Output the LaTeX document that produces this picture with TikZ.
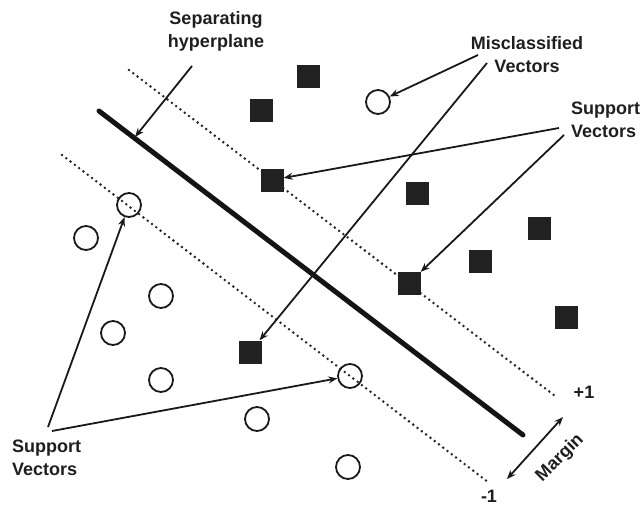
\documentclass[tikz,border=0pt]{standalone}
\usepackage{fontspec}
\setmainfont{Liberation Sans}
\usetikzlibrary{arrows.meta,positioning}

\begin{document}
\begin{tikzpicture}[
    x=1pt, y=-1pt,
    vecc/.style={circle, draw=black!90, line width=1.8pt, minimum size=24pt, inner sep=0pt},
    vecs/.style={rectangle, fill=black!87, minimum size=23pt, inner sep=0pt},
    lbl/.style={font=\fontsize{18}{23}\selectfont\bfseries, text=black!88, inner sep=0pt},
    arr/.style={-{Stealth[length=9pt, width=7pt]}, line width=1.8pt, black!90},
    hyper/.style={line width=5pt, black!92, line cap=round},
    marginline/.style={line width=2.8pt, black!85, dash pattern=on 0pt off 5.4pt, line cap=round}
  ]
  \useasboundingbox (0,0) rectangle (642,508);

  %% -- hyperplane and margins --------------------------------------------
  \coordinate (hA) at (99,111);
  \coordinate (hB) at (523,435);
  \coordinate (pA) at (129,70);
  \coordinate (pB) at (555,396);
  \coordinate (mA) at (62,155);
  \coordinate (mB) at (488,482);
  \draw[hyper]      (hA) -- (hB);
  \draw[marginline] (pA) -- (pB);
  \draw[marginline] (mA) -- (mB);

  %% -- class +1 (filled squares) -----------------------------------------
  \node[vecs] (s1) at (308,77)  {};
  \node[vecs] (s2) at (261,111) {};
  \node[vecs] (s3) at (272,180) {};
  \node[vecs] (s4) at (417,193) {};
  \node[vecs] (s5) at (539,228) {};
  \node[vecs] (s6) at (480,261) {};
  \node[vecs] (s7) at (409,283) {};
  \node[vecs] (s8) at (566,317) {};
  \node[vecs] (s9) at (250,352) {};

  %% -- class -1 (circles) ------------------------------------------------
  \node[vecc] (c1) at (378,102) {};
  \node[vecc] (c2) at (129,205) {};
  \node[vecc] (c3) at (86,238)  {};
  \node[vecc] (c4) at (161,296) {};
  \node[vecc] (c5) at (113,333) {};
  \node[vecc] (c6) at (161,380) {};
  \node[vecc] (c7) at (257,419) {};
  \node[vecc] (c8) at (350,376) {};
  \node[vecc] (c9) at (348,467) {};

  %% -- labels ------------------------------------------------------------
  \node[lbl, align=center] (sep)   at (216,31)  {Separating\\hyperplane};
  \node[lbl, align=center] (miscl) at (527,55)  {Misclassified\\Vectors};
  \node[lbl, align=left, anchor=west] (svR) at (571,120) {Support\\Vectors};
  \node[lbl, align=left, anchor=west] (svL) at (12,458)  {Support\\Vectors};
  \node[lbl] (plus)  at (584,392) {+1};
  \node[lbl] (minus) at (489,496) {-1};

  %% -- arrows ------------------------------------------------------------
  \coordinate (hpt) at (135,137);
  \coordinate (sepT) at (192,66);
  \draw[arr] (sepT) -- (hpt);

  \coordinate (mi1) at (478,55);
  \coordinate (mi2) at (487,63);
  \draw[arr] (mi1) -- (c1);
  \draw[arr] (mi2) -- (s9);

  \coordinate (sr1) at (559,128);
  \coordinate (sr2) at (564,135);
  \draw[arr] (sr1) -- (s3);
  \draw[arr] (sr2) -- (s7);

  \coordinate (sl1) at (48,427);
  \coordinate (sl2) at (52,431);
  \draw[arr] (sl1) -- (c2);
  \draw[arr] (sl2) -- (c8);

  %% -- margin ------------------------------------------------------------
  \coordinate (mg1) at (507,479);
  \coordinate (mg2) at (563,417);
  \draw[arr, {Stealth[length=9pt, width=7pt]}-{Stealth[length=9pt, width=7pt]}] (mg1) -- (mg2);
  \node[lbl, rotate=45] (mgn) at (560,458) {Margin};

\end{tikzpicture}
\end{document}
